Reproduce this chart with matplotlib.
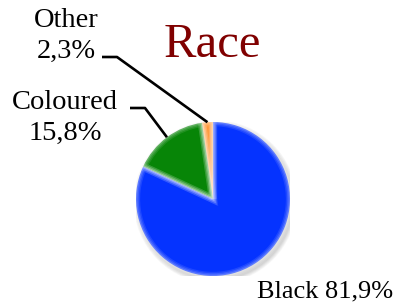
import matplotlib
matplotlib.use("Agg")
import matplotlib.pyplot as plt
import numpy as np
from matplotlib.patches import Circle

categories = ["Other", "Coloured", "Black"]
values = [2.3, 15.8, 81.9]
pct_labels = ["2,3%", "15,8%", "81,9%"]
colors = ["#FF9A3C", "#078507", "#0533FF"]
title = "Race"

W, H = 397, 304
fig = plt.figure(figsize=(W / 100, H / 100), dpi=100)
cx, cy, r = 213, 199, 77
ax = fig.add_axes([(cx - r) / W, (H - cy - r) / H, 2 * r / W, 2 * r / H])
ax.set_xlim(-1, 1)
ax.set_ylim(-1, 1)
ax.set_aspect("equal")
ax.axis("off")

def px(x, y):
    return ((x - cx) / r, (cy - y) / r)

# soft shadow
for i in range(6):
    ax.add_patch(Circle((0.03, -0.04), 1.06 - i * 0.01, color="black", alpha=0.03, lw=0, zorder=0))

wedges, _ = ax.pie(values, colors=colors, startangle=90, counterclock=True,
                   radius=1.0, wedgeprops=dict(linewidth=0))
# light halo along edges
for lw, al in [(6, 0.10), (4, 0.13), (2, 0.18)]:
    ax.pie(values, colors=["none"] * 3, startangle=90, counterclock=True, radius=1.0,
           wedgeprops=dict(linewidth=lw, edgecolor="white", alpha=al, facecolor="none"))
ax.set_xlim(-1, 1)
ax.set_ylim(-1, 1)

font = "Liberation Serif"
fs = 20.5

# angles of wedge centres
angles = []
start = 90
for v in values:
    ang = start + v * 3.6 / 2
    angles.append(np.deg2rad(ang))
    start += v * 3.6

# Other label
ox, oy1 = px(66, 27)
_, oy2 = px(66, 58)
ax.text(ox, oy1, categories[0], ha="center", va="baseline", fontsize=fs, family=font, clip_on=False)
ax.text(ox, oy2, pct_labels[0], ha="center", va="baseline", fontsize=fs, family=font, clip_on=False)
e0a = px(102, 57)
e0b = px(117, 57)
ax.plot([e0a[0], e0b[0], np.cos(angles[0])], [e0a[1], e0b[1], np.sin(angles[0])],
        color="black", lw=1.9, clip_on=False, solid_capstyle="butt")

# Coloured label
kx, ky1 = px(65, 109)
_, ky2 = px(65, 140)
ax.text(kx, ky1, categories[1], ha="center", va="baseline", fontsize=fs, family=font, clip_on=False)
ax.text(kx, ky2, pct_labels[1], ha="center", va="baseline", fontsize=fs, family=font, clip_on=False)
e1a = px(130, 108)
e1b = px(145, 108)
ax.plot([e1a[0], e1b[0], np.cos(angles[1])], [e1a[1], e1b[1], np.sin(angles[1])],
        color="black", lw=1.9, clip_on=False, solid_capstyle="butt")

# Black label
bx, by = px(393, 297)
ax.text(bx, by, categories[2] + " " + pct_labels[2], ha="right", va="baseline", fontsize=19,
        family=font, clip_on=False)

# Title
tx, ty = px(212, 57)
ax.text(tx, ty, title, ha="center", va="baseline", fontsize=35, family=font, color="#800000", clip_on=False)

fig.savefig("out.png", dpi=100)
